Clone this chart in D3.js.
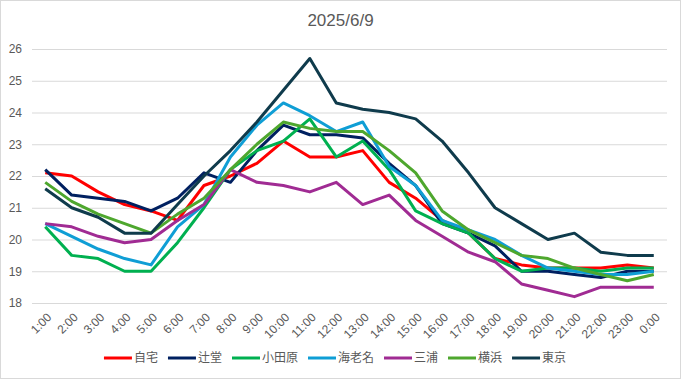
<!DOCTYPE html>
<html>
<head>
<meta charset="utf-8">
<script src="https://cdn.jsdelivr.net/npm/d3@7"></script>
<style>
  body { margin: 0; background: #fff; }
  text { font-family: "Liberation Sans", "Noto Sans CJK JP", sans-serif; }
</style>
</head>
<body>
<div id="chart"></div>
<script>
var title = "2025/6/9";

var hours = ["1:00", "2:00", "3:00", "4:00", "5:00", "6:00", "7:00", "8:00",
  "9:00", "10:00", "11:00", "12:00", "13:00", "14:00", "15:00", "16:00",
  "17:00", "18:00", "19:00", "20:00", "21:00", "22:00", "23:00", "0:00"];

var yTicks = [18, 19, 20, 21, 22, 23, 24, 25, 26];

var names  = ["自宅", "辻堂", "小田原", "海老名", "三浦", "横浜", "東京"];
var colors = ["#FF0000", "#002060", "#00B050", "#0F9ED5", "#A02B93", "#4EA72E", "#0F3B4C"];

var jitaku   = [22.1, 22.0, 21.5, 21.1, 20.9, 20.6, 21.7, 22.0, 22.4, 23.1, 22.6, 22.6, 22.8, 21.8, 21.3, 20.6, 20.2, 19.4, 19.2, 19.1, 19.1, 19.1, 19.2, 19.1];
var tsujido  = [22.2, 21.4, 21.3, 21.2, 20.9, 21.3, 22.1, 21.8, 22.8, 23.6, 23.3, 23.3, 23.2, 22.4, 21.7, 20.5, 20.2, 19.8, 19.0, 19.0, 18.9, 18.8, 19.0, 19.0];
var odawara  = [20.4, 19.5, 19.4, 19.0, 19.0, 19.9, 21.0, 22.2, 22.8, 23.1, 23.8, 22.6, 23.1, 22.2, 20.9, 20.5, 20.2, 19.4, 19.0, 19.1, 19.1, 19.0, 19.1, 19.1];
var ebina    = [20.5, 20.1, 19.7, 19.4, 19.2, 20.4, 21.1, 22.6, 23.6, 24.3, 23.9, 23.4, 23.7, 22.3, 21.7, 20.6, 20.3, 20.0, 19.5, 19.1, 19.0, 18.9, 18.9, 19.0];
var miura    = [20.5, 20.4, 20.1, 19.9, 20.0, 20.6, 21.1, 22.2, 21.8, 21.7, 21.5, 21.8, 21.1, 21.4, 20.6, 20.1, 19.6, 19.3, 18.6, 18.4, 18.2, 18.5, 18.5, 18.5];
var yokohama = [21.8, 21.2, 20.8, 20.5, 20.2, 20.8, 21.3, 22.2, 23.0, 23.7, 23.5, 23.4, 23.4, 22.8, 22.1, 20.9, 20.3, 19.9, 19.5, 19.4, 19.1, 18.9, 18.7, 18.9];
var tokyo    = [21.6, 21.0, 20.7, 20.2, 20.2, 21.1, 22.0, 22.8, 23.7, 24.7, 25.7, 24.3, 24.1, 24.0, 23.8, 23.1, 22.1, 21.0, 20.5, 20.0, 20.2, 19.6, 19.5, 19.5];

var seriesValues = [jitaku, tsujido, odawara, ebina, miura, yokohama, tokyo];

var W = 681, H = 379;
var margin = {left: 32, right: 14, top: 49, bottom: 77};

var svg = d3.select("#chart")
    .append("svg")
    .attr("width", W)
    .attr("height", H);

// chart border
svg.append("rect")
    .attr("x", 0.5).attr("y", 0.5)
    .attr("width", W - 1).attr("height", H - 1)
    .attr("fill", "#fff")
    .attr("stroke", "#D9D9D9");

svg.append("text")
    .attr("x", W / 2)
    .attr("y", 26)
    .attr("text-anchor", "middle")
    .attr("fill", "#595959")
    .style("font-size", "17px")
    .text(title);

var x = d3.scaleBand()
    .domain(hours)
    .range([margin.left, W - margin.right]);

var y = d3.scaleLinear()
    .domain([18, 26])
    .range([H - margin.bottom + 1, margin.top]);

// gridlines
var yAxis = d3.axisLeft(y)
    .tickValues(yTicks)
    .tickSize(-(W - margin.left - margin.right))
    .tickPadding(10)
    .tickFormat(d3.format("d"));

var gy = svg.append("g")
    .attr("transform", "translate(" + margin.left + ",0)")
    .call(yAxis);
gy.select(".domain").remove();
gy.selectAll("line").attr("stroke", "#D9D9D9");
gy.selectAll("text")
    .attr("fill", "#595959")
    .style("font-size", "12px");

// x axis labels
var xAxis = d3.axisBottom(x).tickSize(0).tickPadding(0);
var gx = svg.append("g")
    .attr("transform", "translate(0," + (H - margin.bottom + 1) + ")")
    .call(xAxis);
gx.select(".domain").remove();
gx.selectAll("text")
    .attr("fill", "#595959")
    .style("font-size", "12px")
    .attr("text-anchor", "end")
    .attr("dy", "0.35em")
    .attr("transform", "translate(4,12) rotate(-45)");

var line = d3.line()
    .x(function(d, i) { return x(hours[i]) + x.bandwidth() / 2; })
    .y(function(d) { return y(d); });

svg.append("g")
    .selectAll("path")
    .data(seriesValues)
    .enter()
    .append("path")
    .attr("d", line)
    .attr("fill", "none")
    .attr("stroke", function(d, i) { return colors[i]; })
    .attr("stroke-width", 3)
    .attr("stroke-linejoin", "round");

// legend
var legend = svg.append("g");
var lx = 0;
names.forEach(function(n, i) {
    var item = legend.append("g").attr("transform", "translate(" + lx + ",0)");
    item.append("line")
        .attr("x1", 0).attr("x2", 28)
        .attr("y1", 0).attr("y2", 0)
        .attr("stroke", colors[i])
        .attr("stroke-width", 3);
    var t = item.append("text")
        .attr("x", 30)
        .attr("y", 0)
        .attr("dy", "0.35em")
        .attr("fill", "#595959")
        .style("font-size", "12px")
        .style("font-family", "'Noto Sans CJK JP', sans-serif")
        .text(n);
    lx += 30 + t.node().getComputedTextLength() + 10;
});
lx -= 10;
legend.attr("transform", "translate(" + (335 - lx / 2) + ",358)");
</script>
</body>
</html>
